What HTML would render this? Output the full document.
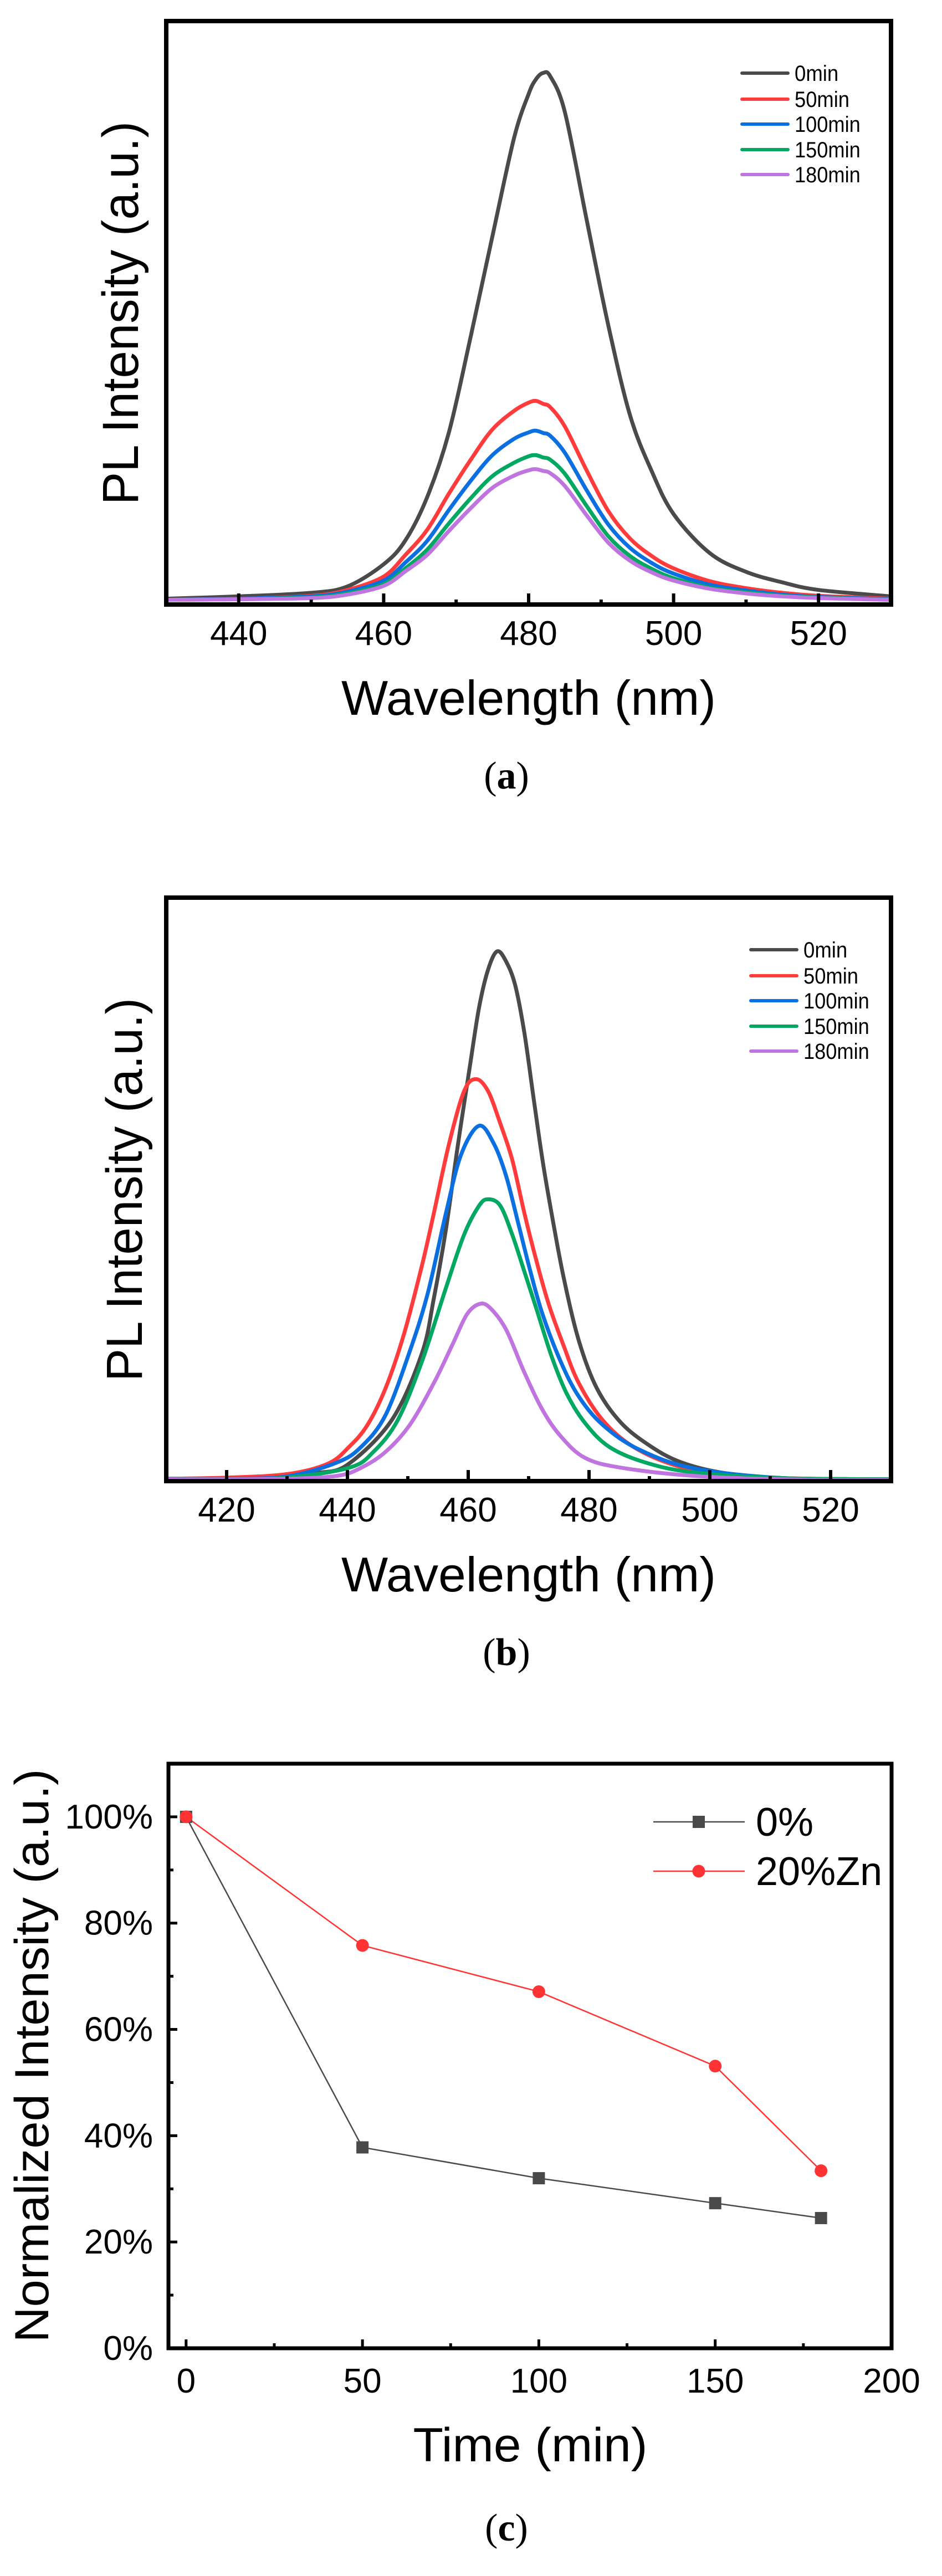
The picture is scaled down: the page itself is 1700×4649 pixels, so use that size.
<!DOCTYPE html>
<html><head><meta charset="utf-8"><style>
html,body{margin:0;padding:0;background:#fff;}
svg{display:block;}
text{font-family:"Liberation Sans",sans-serif;fill:#000;}
.cap{font-family:"Liberation Serif",serif;}
</style></head><body>
<svg id="fig" width="1700" height="4649" viewBox="0 0 1700 4649" xmlns="http://www.w3.org/2000/svg"></svg>
<script>
// ---------- Panel (a) data ----------
const aWl = [430,440,450,455,460,463,466,469,472,475,478,480,481,482,483,485,488,491,494,497,500,505,510,515,520,530];
const a0  = [0.010,0.014,0.020,0.031,0.069,0.11,0.184,0.295,0.459,0.631,0.80,0.875,0.90,0.911,0.905,0.844,0.66,0.478,0.324,0.228,0.155,0.088,0.056,0.038,0.025,0.014];
const a50 = [0.008,0.010,0.015,0.025,0.048,0.085,0.128,0.19,0.248,0.30,0.332,0.346,0.349,0.344,0.338,0.305,0.23,0.16,0.113,0.083,0.062,0.04,0.028,0.02,0.015,0.01];
const a100= [0.008,0.010,0.014,0.022,0.041,0.072,0.109,0.162,0.212,0.256,0.284,0.295,0.298,0.294,0.289,0.260,0.196,0.137,0.097,0.071,0.053,0.034,0.024,0.017,0.013,0.009];
const a150= [0.008,0.009,0.012,0.019,0.035,0.062,0.094,0.139,0.182,0.220,0.243,0.254,0.256,0.252,0.248,0.224,0.169,0.117,0.083,0.061,0.045,0.029,0.021,0.015,0.012,0.008];
const a180= [0.008,0.009,0.011,0.017,0.032,0.057,0.085,0.126,0.165,0.200,0.221,0.230,0.232,0.229,0.225,0.203,0.153,0.106,0.075,0.055,0.041,0.027,0.019,0.014,0.011,0.008];
const aTicks = [440,460,480,500,520];
// ---------- Panel (b) data ----------
const b0Wl = [410,420,430,435,440,447.3,452.3,454.3,456.3,458.3,460.3,461.8,463.3,464.8,466.3,467.8,469.3,470.8,472.3,473.8,475.8,478.3,481.3,485.3,490.3,495.3,502.3,512.3,530];
const b0   = [0.004,0.005,0.008,0.014,0.028,0.104,0.218,0.313,0.431,0.577,0.713,0.812,0.877,0.908,0.890,0.849,0.768,0.658,0.550,0.459,0.349,0.241,0.159,0.100,0.059,0.032,0.014,0.005,0.003];
const b50Wl= [410,420,430,436.8,440.3,443.3,446.3,449.3,452.3,454.3,456.8,459.3,461.3,463.3,465.3,467.3,469.3,471.3,473.3,475.8,478.3,482.3,487.3,494.3,502.3,512.3,530];
const b50  = [0.004,0.006,0.012,0.030,0.059,0.096,0.159,0.250,0.368,0.459,0.577,0.668,0.689,0.668,0.613,0.550,0.459,0.377,0.304,0.232,0.168,0.104,0.059,0.027,0.012,0.005,0.003];
const b100Wl=[410,420,430,438.3,442.3,446.3,450.3,453.3,456.3,458.8,461.8,464.3,466.3,468.3,470.3,472.3,475.3,478.3,482.3,488.3,497.3,512.3,530];
const b100 = [0.003,0.004,0.008,0.032,0.059,0.113,0.222,0.322,0.459,0.559,0.609,0.577,0.522,0.441,0.359,0.286,0.205,0.145,0.096,0.054,0.022,0.005,0.003];
const b150Wl=[410,420,430,440.3,444.3,448.3,452.3,456.3,459.3,461.8,463.3,465.3,467.3,469.3,471.3,473.8,476.3,479.3,483.3,489.3,497.3,512.3,530];
const b150 = [0.003,0.004,0.006,0.023,0.050,0.104,0.204,0.331,0.422,0.472,0.483,0.472,0.422,0.359,0.295,0.214,0.150,0.100,0.059,0.032,0.015,0.005,0.003];
const b180Wl=[410,420,430,438.3,442.3,446.3,450.3,454.3,457.3,459.8,462,463.8,466.3,469.3,472.3,475.3,479.3,485.3,497.3,512.3,530];
const b180 = [0.003,0.003,0.004,0.009,0.023,0.050,0.096,0.168,0.232,0.286,0.304,0.295,0.259,0.186,0.122,0.077,0.040,0.023,0.009,0.003,0.002];
const bTicks = [420,440,460,480,500,520];
// ---------- Panel (c) data ----------
const cTime = [0,50,100,150,180];
const c0    = [100,37.8,32.0,27.3,24.5];
const cZn   = [100,75.8,67.1,53.1,33.4];
const cXTicks = [0,50,100,150,200];
const cYTicks = [0,20,40,60,80,100];
const cYLabels = ["0%","20%","40%","60%","80%","100%"];
const legendNames = ["0min","50min","100min","150min","180min"];
const colors = ["#4a4a4a","#ff3b3b","#0a6fe0","#00a862","#c074e0"];

const NS="http://www.w3.org/2000/svg";
const svg=document.getElementById('fig');
function el(tag,attrs,parent,txt){const e=document.createElementNS(NS,tag);for(const k in attrs)e.setAttribute(k,attrs[k]);if(txt!==undefined)e.textContent=txt;(parent||svg).appendChild(e);return e;}
function smooth(pts){let d='M'+pts[0][0].toFixed(1)+','+pts[0][1].toFixed(1);for(let i=0;i<pts.length-1;i++){const p0=pts[Math.max(0,i-1)],p1=pts[i],p2=pts[i+1],p3=pts[Math.min(pts.length-1,i+2)];const c1x=p1[0]+(p2[0]-p0[0])/6,c1y=p1[1]+(p2[1]-p0[1])/6,c2x=p2[0]-(p3[0]-p1[0])/6,c2y=p2[1]-(p3[1]-p1[1])/6;d+=' C'+c1x.toFixed(1)+','+c1y.toFixed(1)+' '+c2x.toFixed(1)+','+c2y.toFixed(1)+' '+p2[0].toFixed(1)+','+p2[1].toFixed(1);}return d;}

function spectrum(cfg){
  const g=el('g',{});
  
  
  const L=300,R=1608,T=cfg.top,B=cfg.top+1053;
  const sx=w=>L+(w-cfg.xmin)/(cfg.xmax-cfg.xmin)*(R-L);
  const sy=v=>B-v*(B-T);
  const cg=el('g',{},g);
  
  
  [0,1,2,3,4].forEach(i=>{
    const pts=cfg.wls[i].map((w,j)=>[sx(w),sy(cfg.series[i][j])]);
    const p=el('path',{d:smooth(pts),fill:'none',stroke:colors[i],'stroke-width':7,'stroke-linejoin':'round'},cg);
    
    
  });
  const fr=el('rect',{x:L,y:T,width:R-L,height:B-T,fill:'none',stroke:'#000','stroke-width':8},g);
  
  
  for(let w=Math.ceil(cfg.xmin/10)*10; w<=cfg.xmax; w+=10){
    const major=cfg.ticks.includes(w);
    const t=el('line',{x1:sx(w),x2:sx(w),y1:B,y2:B-(major?20:9),stroke:'#000','stroke-width':6},g);
    
    
  }
  cfg.ticks.forEach(w=>{
    const t=el('text',{x:sx(w),y:B+73,'font-size':62,'text-anchor':'middle'},g,String(w));
    
    
  });
  const xt=el('text',{x:954,y:B+199,'font-size':88,'text-anchor':'middle',textLength:676,lengthAdjust:'spacingAndGlyphs'},g,'Wavelength (nm)');
  
  
  const yt=el('text',{x:0,y:0,'font-size':92,'text-anchor':'middle',textLength:692,lengthAdjust:'spacingAndGlyphs',transform:'translate('+cfg.ytx+','+(T+527)+') rotate(-90)'},g,'PL Intensity (a.u.)');
  
  
  const lg=el('g',{},g);
  
  
  const rows=[94,141,186,232,277];
  legendNames.forEach((n,i)=>{
    const y=T+rows[i];
    const ln=el('line',{x1:cfg.lx,x2:cfg.lx+83,y1:y,y2:y,stroke:colors[i],'stroke-width':6,'stroke-linecap':'round'},lg);
    
    
    const tx=el('text',{x:cfg.lx+95,y:y+14,'font-size':40,textLength:n.length*19.8,lengthAdjust:'spacingAndGlyphs'},lg,n);
    
    
  });
  const cap=el('text',{x:914,y:B+332,'font-size':70,'text-anchor':'middle','class':'cap'},svg);
  
  
  el('tspan',{},cap,'(');el('tspan',{'font-weight':'bold'},cap,cfg.label);el('tspan',{},cap,')');
}

spectrum({name:'chart-a',label:'a',top:38,xmin:430,xmax:530,ticks:aTicks,ytx:249,lx:1339,
  wls:[aWl,aWl,aWl,aWl,aWl],series:[a0,a50,a100,a150,a180]});
spectrum({name:'chart-b',label:'b',top:1620,xmin:410,xmax:530,ticks:bTicks,ytx:256,lx:1355,
  wls:[b0Wl,b50Wl,b100Wl,b150Wl,b180Wl],series:[b0,b50,b100,b150,b180]});

// ---------- Panel (c) ----------
(function(){
  const g=el('g',{});
  
  
  const L=304,R=1609,T=3183,B=4238;
  const sx=t=>L+(t+5)/205*(R-L);
  const sy=v=>B-v/110*(B-T);
  for(let v=0;v<=110;v+=10){
    const major=v%20===0;
    const t=el('line',{x1:L,x2:L+(major?16:9),y1:sy(v),y2:sy(v),stroke:'#000','stroke-width':5},g);
    
    
  }
  for(let t0=0;t0<=200;t0+=25){
    const major=t0%50===0;
    const t=el('line',{x1:sx(t0),x2:sx(t0),y1:B,y2:B-(major?16:9),stroke:'#000','stroke-width':5},g);
    
    
  }
  cXTicks.forEach(t0=>{
    const t=el('text',{x:sx(t0),y:4318,'font-size':62,'text-anchor':'middle'},g,String(t0));
    
    
  });
  cYTicks.forEach((v,i)=>{
    const t=el('text',{x:276,y:sy(v)+21,'font-size':62,'text-anchor':'end'},g,cYLabels[i]);
    
    
  });
  const p0=el('polyline',{points:cTime.map((t,i)=>sx(t)+','+sy(c0[i])).join(' '),fill:'none',stroke:'#4a4a4a','stroke-width':2.5},g);
  
  
  const p1=el('polyline',{points:cTime.map((t,i)=>sx(t)+','+sy(cZn[i])).join(' '),fill:'none',stroke:'#ff3333','stroke-width':2.5},g);
  
  
  cTime.forEach((t,i)=>{
    const m=el('rect',{x:sx(t)-11,y:sy(c0[i])-11,width:22,height:22,fill:'#4a4a4a'},g);
    
    
  });
  cTime.forEach((t,i)=>{
    const m=el('circle',{cx:sx(t),cy:sy(cZn[i]),r:11.5,fill:'#ff3333'},g);
    
    
  });
  const fr=el('rect',{x:L,y:T,width:R-L,height:B-T,fill:'none',stroke:'#000','stroke-width':7},g);
  
  
  const lg=el('g',{},g);
  
  
  const l1=el('line',{x1:1179,x2:1344,y1:3288,y2:3288,stroke:'#4a4a4a','stroke-width':2.5},lg);
  
  
  const m1=el('rect',{x:1250,y:3277,width:22,height:22,fill:'#4a4a4a'},lg);
  
  
  const t1=el('text',{x:1364,y:3313,'font-size':72},lg,'0%');
  
  
  const l2=el('line',{x1:1179,x2:1344,y1:3377,y2:3377,stroke:'#ff3333','stroke-width':2.5},lg);
  
  
  const m2=el('circle',{cx:1261,cy:3377,r:11.5,fill:'#ff3333'},lg);
  
  
  const t2=el('text',{x:1364,y:3402,'font-size':72},lg,'20%Zn');
  
  
  const xt=el('text',{x:957,y:4442,'font-size':86,'text-anchor':'middle',textLength:423,lengthAdjust:'spacingAndGlyphs'},g,'Time (min)');
  
  
  const yt=el('text',{x:0,y:0,'font-size':86,'text-anchor':'middle',textLength:1035,lengthAdjust:'spacingAndGlyphs',transform:'translate(87,3710) rotate(-90)'},g,'Normalized Intensity (a.u.)');
  
  
  const cap=el('text',{x:914,y:4585,'font-size':70,'text-anchor':'middle','class':'cap'},svg);
  
  
  el('tspan',{},cap,'(');el('tspan',{'font-weight':'bold'},cap,'c');el('tspan',{},cap,')');
})();
</script>
</body></html>
